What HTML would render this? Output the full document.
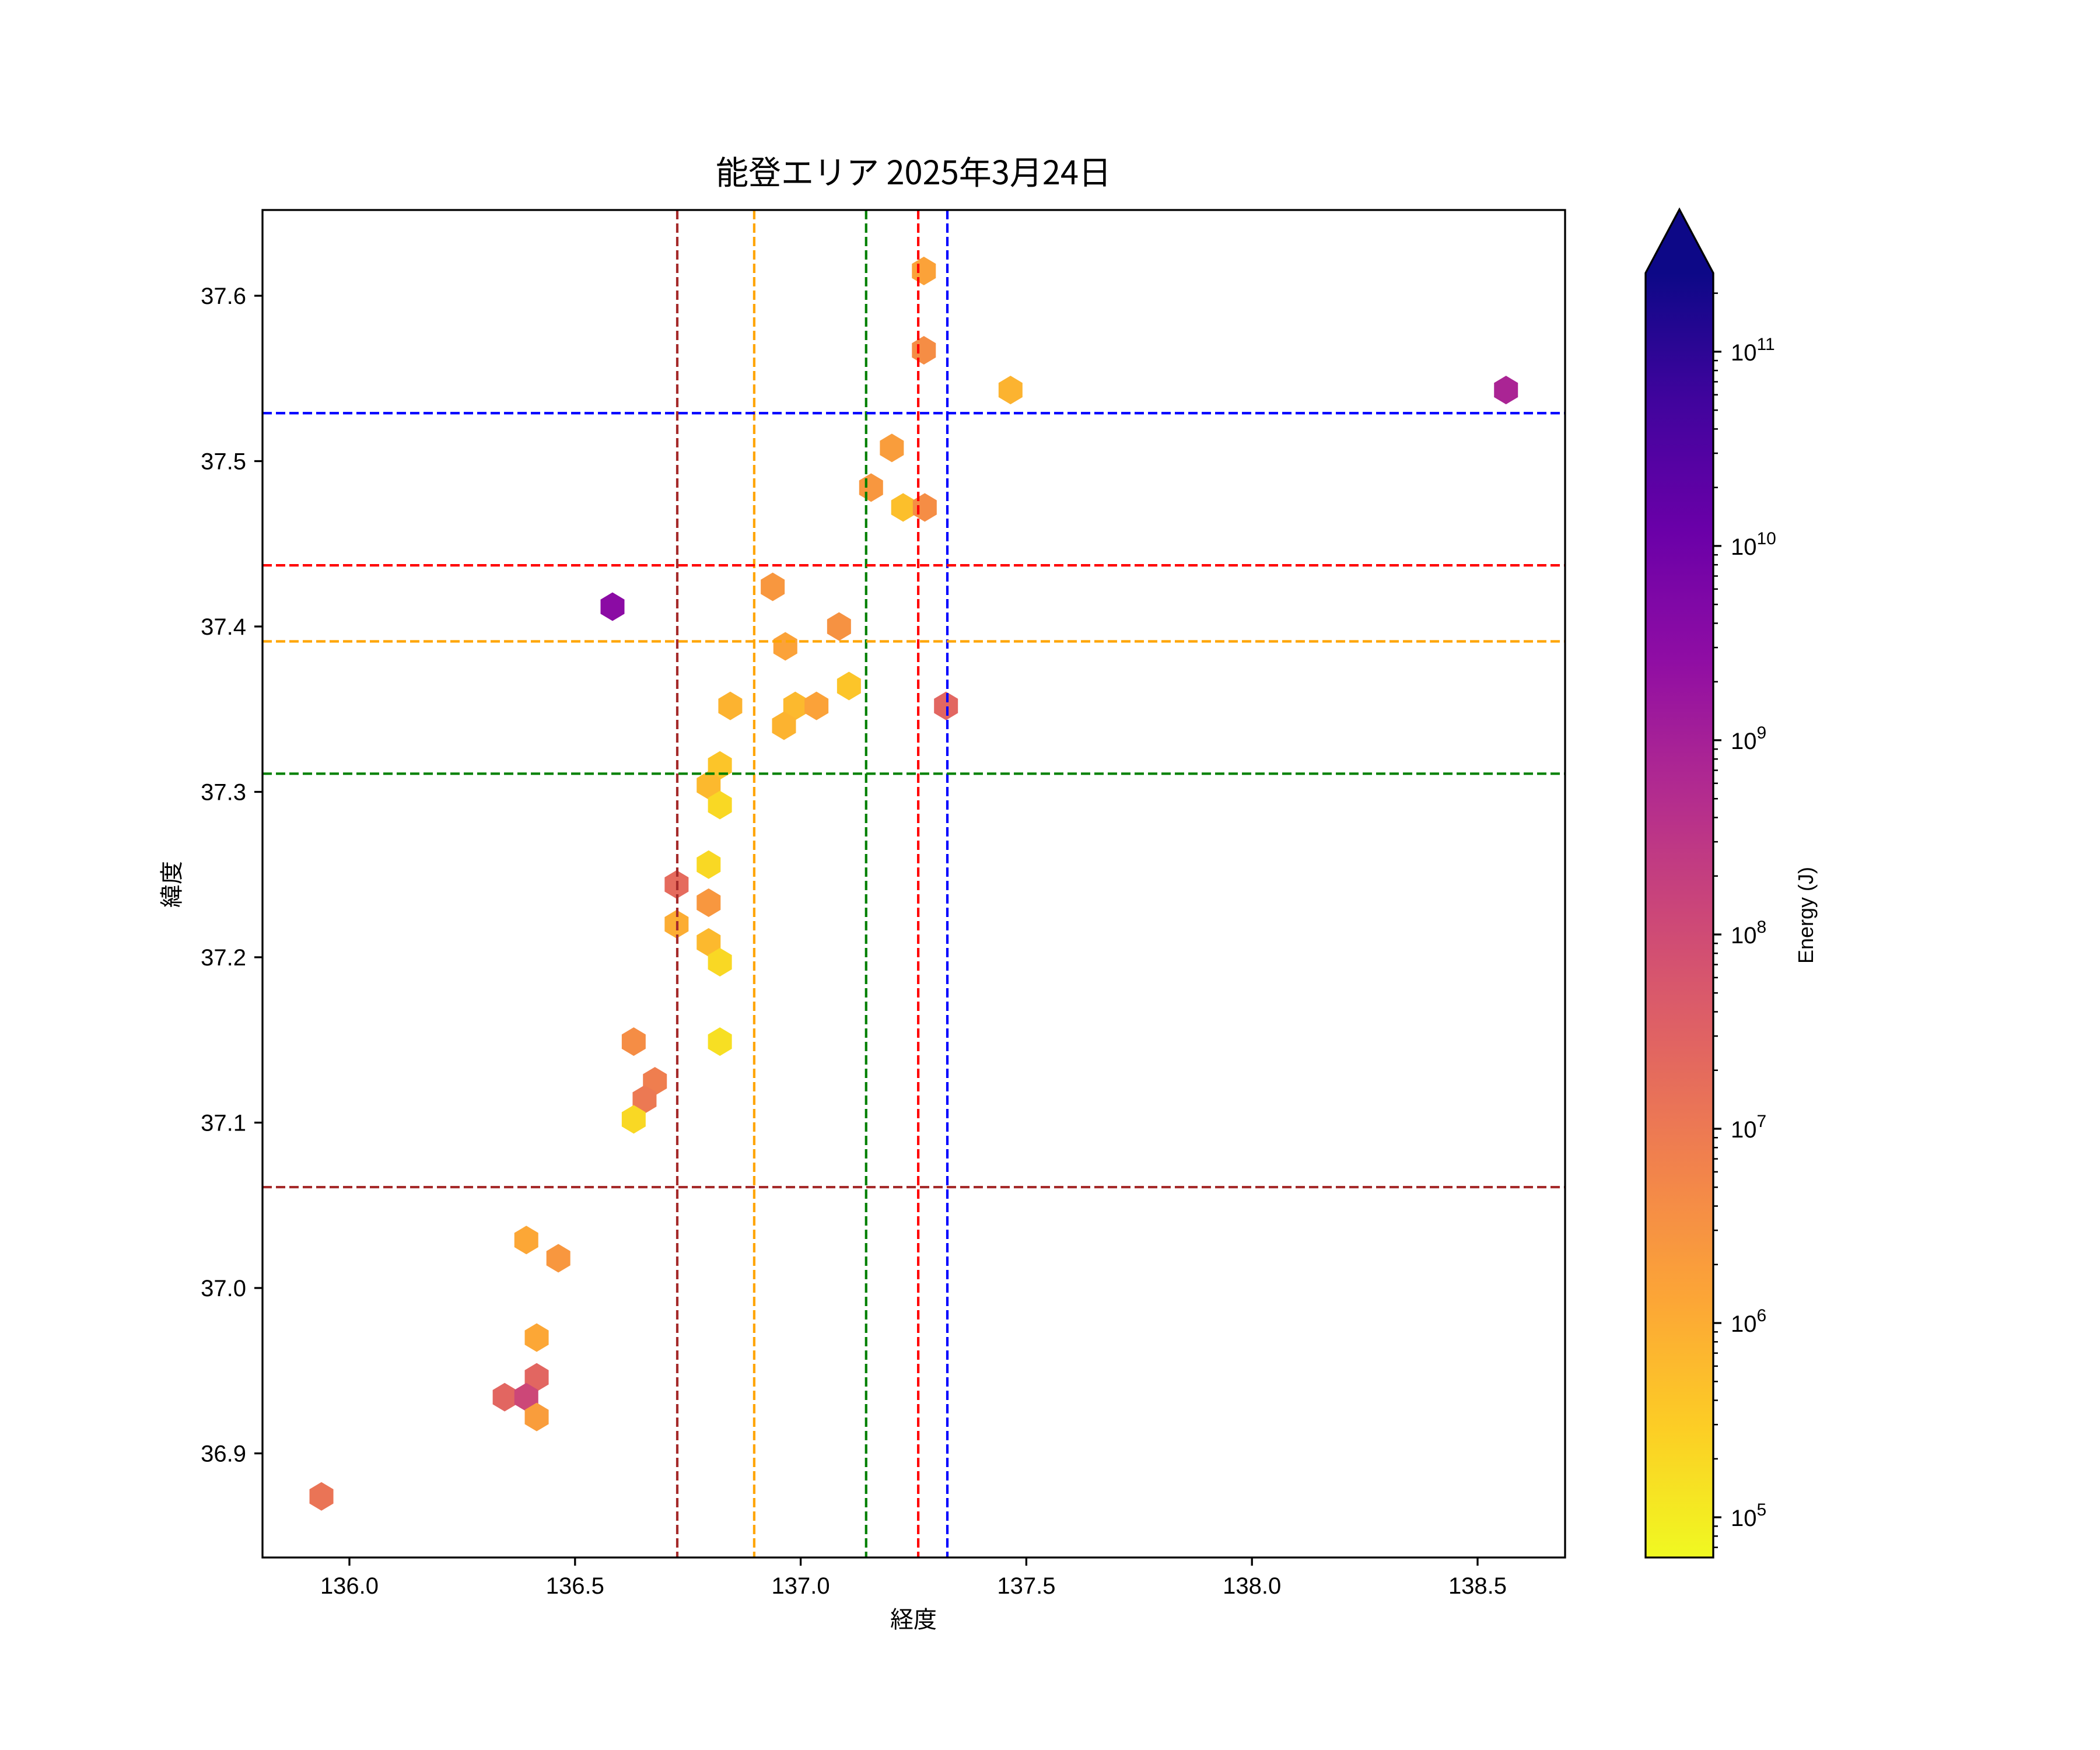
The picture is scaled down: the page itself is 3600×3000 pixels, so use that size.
<!DOCTYPE html>
<html><head><meta charset="utf-8">
<style>
html,body{margin:0;padding:0;background:#fff;}
svg{display:block;font-family:"Liberation Sans","Noto Sans CJK JP",sans-serif;}
</style></head>
<body>
<svg id="chart" width="3600" height="3000" viewBox="0 0 3600 3000" xmlns="http://www.w3.org/2000/svg">
<rect x="0" y="0" width="3600" height="3000" fill="#fff"/>
<text x="1566" y="316" font-size="56" text-anchor="middle" fill="#000" style="font-family:'Noto Sans CJK JP',sans-serif">能登エリア 2025年3月24日</text>
<g id="plot"></g>
<g id="cbar"></g>
<text x="1566" y="2790" font-size="40" text-anchor="middle" fill="#000">経度</text>
<text x="0" y="0" font-size="40" text-anchor="middle" fill="#000" transform="translate(308,1516) rotate(-90)">緯度</text>
<text x="0" y="0" font-size="36" text-anchor="middle" fill="#000" transform="translate(3108,1569) rotate(-90)">Energy (J)</text>
</svg>
<script>
// ---- data ----
const lons = [137.273,137.273,137.465,137.202,136.844,136.988,137.035,136.963,137.107,136.821,136.796,136.821,136.796,136.725,136.796,136.392,136.463,136.415,136.415,136.344,136.392,136.415,138.563,137.156,137.227,137.275,136.938,136.583,137.085,136.966,137.322,136.725,136.796,136.821,136.630,136.821,136.677,136.654,136.630,135.938];
const lats = [37.615,37.567,37.543,37.508,37.352,37.352,37.352,37.340,37.364,37.316,37.304,37.292,37.256,37.244,37.233,37.029,37.018,36.970,36.946,36.934,36.934,36.922,37.543,37.484,37.472,37.472,37.424,37.412,37.400,37.388,37.352,37.220,37.209,37.197,37.149,37.149,37.125,37.114,37.102,36.874];
const logEnergy = [6.2,6.6,5.9,6.3,5.9,5.8,6.2,5.9,5.6,5.6,5.8,5.3,5.3,7.3,6.4,6.1,6.4,6.1,7.4,7.4,8.1,6.3,8.9,6.4,5.7,6.6,6.4,9.5,6.5,6.2,7.4,6.0,5.8,5.3,6.6,5.2,6.9,7.0,5.3,7.1];
const xTicks = [136.0,136.5,137.0,137.5,138.0,138.5];
const yTicks = [36.9,37.0,37.1,37.2,37.3,37.4,37.5,37.6];
const vLineLons = [136.7265,136.897,137.145,137.2605,137.325];
const vLineColors = ["#a52a2a","#ffa500","#008000","#ff0000","#0000ff"];
const hLineLats = [37.529,37.437,37.391,37.311,37.061];
const hLineColors = ["#0000ff","#ff0000","#ffa500","#008000","#a52a2a"];
const cbarExponents = [5,6,7,8,9,10,11];

// ---- geometry ----
const L=450,R=2683,T=360,B=2670;
function xs(v){return 599+(v-136)*773.6;}
function ys(v){return 507+(37.6-v)*2835;}
const CB_L=2821,CB_R=2937,CB_T=468,CB_B=2670,CB_TIP=359;
const LOGMIN=4.793,LOGMAX=11.405;
function cy(lg){return CB_B-(lg-LOGMIN)/(LOGMAX-LOGMIN)*(CB_B-CB_T);}

const plasma=["#0d0887","#41049d","#6a00a8","#8f0da4","#b12a90","#cc4778","#e16462","#f2844b","#fca636","#fcce25","#f0f921"];
function hex2rgb(h){return [parseInt(h.slice(1,3),16),parseInt(h.slice(3,5),16),parseInt(h.slice(5,7),16)];}
function plasmaAt(t){t=Math.max(0,Math.min(1,t));const p=t*10;const i=Math.min(9,Math.floor(p));const f=p-i;const a=hex2rgb(plasma[i]),b=hex2rgb(plasma[i+1]);return "rgb("+a.map((v,k)=>Math.round(v+(b[k]-v)*f)).join(",")+")";}
function colorFor(lg){return plasmaAt(1-(lg-LOGMIN)/(LOGMAX-LOGMIN));}

const NS="http://www.w3.org/2000/svg";
function mk(tag,attrs,parent){const e=document.createElementNS(NS,tag);for(const k in attrs)e.setAttribute(k,attrs[k]);parent.appendChild(e);return e;}
const plot=document.getElementById('plot');
const cbar=document.getElementById('cbar');

const defs=mk('defs',{},document.getElementById('chart'));
const cp=mk('clipPath',{id:'clipAx'},defs);
mk('rect',{x:L,y:T,width:R-L,height:B-T},cp);
const inner=mk('g',{'clip-path':'url(#clipAx)'},plot);



const hw=20.5,hh=24.5;
for(let i=0;i<lons.length;i++){
  const x=xs(lons[i]),y=ys(lats[i]);
  const d=`M${x},${y-hh}L${x+hw},${y-hh/2}L${x+hw},${y+hh/2}L${x},${y+hh}L${x-hw},${y+hh/2}L${x-hw},${y-hh/2}Z`;
  const p=mk('path',{d:d,fill:colorFor(logEnergy[i])},inner);
  
  
}
for(let i=0;i<vLineLons.length;i++){
  const x=xs(vLineLons[i]);
  const l=mk('line',{x1:x,x2:x,y1:T,y2:B,stroke:vLineColors[i],'stroke-width':4.2,'stroke-dasharray':'16,7'},inner);
  
  
}
for(let i=0;i<hLineLats.length;i++){
  const y=ys(hLineLats[i]);
  const l=mk('line',{x1:L,x2:R,y1:y,y2:y,stroke:hLineColors[i],'stroke-width':4.2,'stroke-dasharray':'16,7'},inner);
  
  
}
const fr=mk('rect',{x:L,y:T,width:R-L,height:B-T,fill:'none',stroke:'#000','stroke-width':3.3},plot);


xTicks.forEach(v=>{
  const x=xs(v);
  const t=mk('line',{x1:x,x2:x,y1:B,y2:B+14,stroke:'#000','stroke-width':3.3},plot);
  
  
  const tx=mk('text',{x:x,y:B+62,'font-size':40,'text-anchor':'middle',fill:'#000'},plot);
  tx.textContent=v.toFixed(1);
  
  
});
yTicks.forEach(v=>{
  const y=ys(v);
  const t=mk('line',{x1:L-14,x2:L,y1:y,y2:y,stroke:'#000','stroke-width':3.3},plot);
  
  
  const tx=mk('text',{x:L-28,y:y+14,'font-size':40,'text-anchor':'end',fill:'#000'},plot);
  tx.textContent=v.toFixed(1);
  
  
});

const gr=mk('linearGradient',{id:'cbg',x1:0,y1:0,x2:0,y2:1},defs);
for(let k=0;k<=40;k++){const t=k/40;mk('stop',{offset:t,'stop-color':plasmaAt(t)},gr);}
const cbRect=mk('rect',{x:CB_L,y:CB_T,width:CB_R-CB_L,height:CB_B-CB_T,fill:'url(#cbg)'},cbar);


const tri=mk('path',{d:`M${CB_L},${CB_T+1}L${(CB_L+CB_R)/2},${CB_TIP}L${CB_R},${CB_T+1}Z`,fill:'#0d0887'},cbar);


const outl=mk('path',{d:`M${CB_L},${CB_B}L${CB_L},${CB_T}L${(CB_L+CB_R)/2},${CB_TIP}L${CB_R},${CB_T}L${CB_R},${CB_B}Z`,fill:'none',stroke:'#000','stroke-width':3.3},cbar);


for(let e=4;e<=11;e++){
  for(let m=1;m<=9;m++){
    const lg=e+Math.log10(m);
    if(lg<LOGMIN||lg>LOGMAX)continue;
    const y=cy(lg);
    const major=(m===1);
    const t=mk('line',{x1:CB_R,x2:CB_R+(major?14:8),y1:y,y2:y,stroke:'#000','stroke-width':major?3.3:2.5},cbar);
    
    
  }
}
cbarExponents.forEach(e=>{
  const y=cy(e);
  const tx=mk('text',{x:CB_R+30,y:y+15,'font-size':40,fill:'#000'},cbar);
  
  
  const a=mk('tspan',{},tx);a.textContent='10';
  const b=mk('tspan',{dy:-18,'font-size':30},tx);b.textContent=String(e);
});
</script>
</body></html>
